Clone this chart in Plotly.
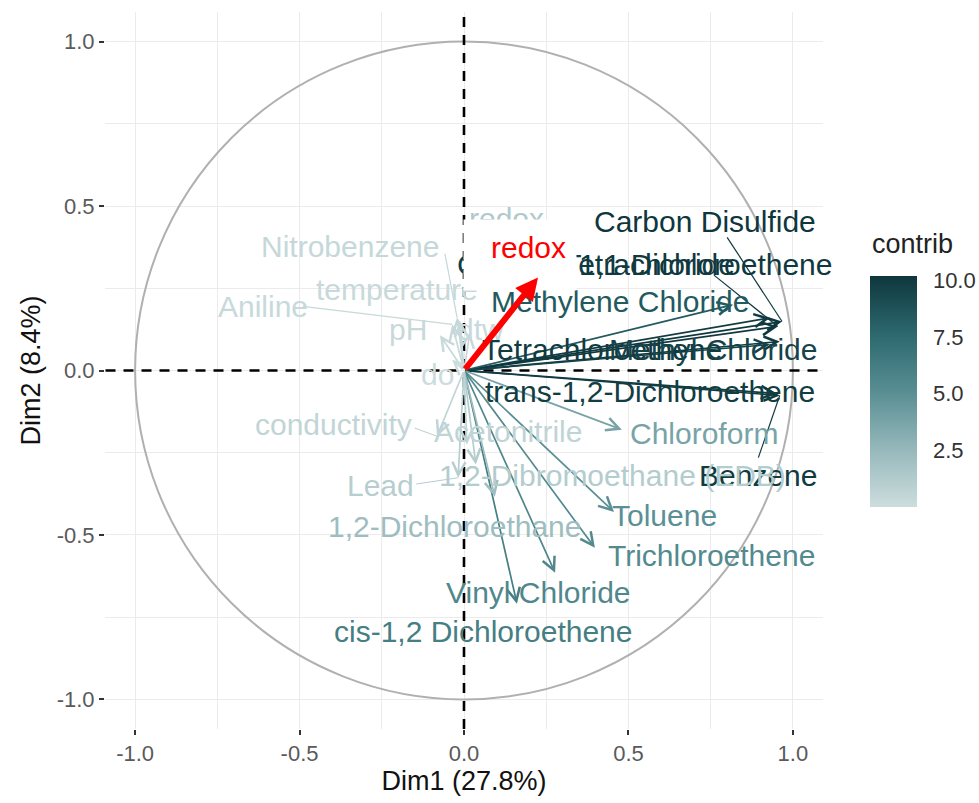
import plotly.graph_objects as go
from plotly.colors import sample_colorscale

# ---------------- data ----------------
variables = [
    "Carbon Disulfide", "Carbon Tetrachloride", "1,1-Dichloroethene", "Methylene Chloride",
    "Tetrachloroethene", "Methyl Chloride", "trans-1,2-Dichloroethene", "Benzene",
    "Chloroform", "Toluene", "Trichloroethene", "Vinyl Chloride", "cis-1,2 Dichloroethene",
    "1,2-Dichloroethane", "1,2-Dibromoethane (EDB)", "Acetonitrile", "Lead", "conductivity",
    "Aniline", "Nitrobenzene", "temperature", "pH", "dtw", "do", "redox",
]
dim1 = [0.967, 0.930, 0.954, 0.818, 0.960, 0.930, 0.951, 0.960,
        0.480, 0.456, 0.398, 0.277, 0.161,
        0.094, 0.036, 0.009, -0.018, -0.082,
        -0.036, -0.021, -0.012, -0.073, 0.018, -0.036, 0.225]
dim2 = [0.149, 0.160, 0.134, 0.200, 0.088, 0.079, -0.070, -0.076,
        -0.180, -0.430, -0.539, -0.615, -0.709,
        -0.384, -0.286, -0.225, -0.326, -0.200,
        0.140, 0.161, 0.150, 0.107, 0.116, 0.033, 0.283]
contrib = [10.2, 10.0, 10.1, 8.4, 10.0, 9.6, 9.9, 10.0,
           3.8, 5.0, 5.4, 5.6, 6.2,
           2.2, 1.2, 0.6, 1.0, 0.55,
           0.3, 0.35, 0.3, 0.25, 0.25, 0.05, 1.4]
x_label = "Dim1 (27.8%)"
y_label = "Dim2 (8.4%)"
legend_title = "contrib"
tick_vals = [-1.0, -0.5, 0.0, 0.5, 1.0]
tick_text = ["-1.0", "-0.5", "0.0", "0.5", "1.0"]
cbar_vals = [2.5, 5.0, 7.5, 10.0]
cbar_text = ["2.5", "5.0", "7.5", "10.0"]
highlight = "redox"
axis_range = [-1.09, 1.09]

# ---------------- layout helpers (label placement, repel segments) ----------------
label_pos = {
    "Carbon Disulfide": (0.733, 0.454), "Carbon Tetrachloride": (0.401, 0.323),
    "1,1-Dichloroethene": (0.737, 0.323), "Methylene Chloride": (0.474, 0.210),
    "Tetrachloroethene": (0.420, 0.064), "Methyl Chloride": (0.758, 0.064),
    "trans-1,2-Dichloroethene": (0.566, -0.064), "Benzene": (0.894, -0.320),
    "Chloroform": (0.730, -0.192), "Toluene": (0.611, -0.441),
    "Trichloroethene": (0.752, -0.563), "Vinyl Chloride": (0.225, -0.676),
    "cis-1,2 Dichloroethene": (0.058, -0.795), "1,2-Dichloroethane": (-0.027, -0.475),
    "1,2-Dibromoethane (EDB)": (0.452, -0.320), "Acetonitrile": (0.134, -0.186),
    "Lead": (-0.255, -0.350), "conductivity": (-0.398, -0.164),
    "Aniline": (-0.611, 0.195), "Nitrobenzene": (-0.347, 0.377),
    "temperature": (-0.204, 0.247), "pH": (-0.170, 0.125), "dtw": (0.049, 0.125),
    "do": (-0.082, -0.012), "redox": (0.130, 0.462),
}
segment_start = {
    "Carbon Disulfide": (0.800, 0.405), "1,1-Dichloroethene": (0.760, 0.290),
    "Benzene": (0.895, -0.265), "Aniline": (-0.490, 0.195),
    "Nitrobenzene": (-0.058, 0.355), "conductivity": (-0.150, -0.175),
    "Lead": (-0.145, -0.345),
}

colorscale = [[0.0, "rgb(205,221,222)"], [0.25, "rgb(150,184,187)"], [0.5, "rgb(88,142,147)"],
              [0.75, "rgb(44,104,110)"], [1.0, "rgb(14,55,61)"]]
cmin, cmax = 0.0, 10.2
colors = sample_colorscale(colorscale, [(c - cmin) / (cmax - cmin) for c in contrib])

FONT = "Liberation Sans, Arial, Helvetica, sans-serif"
LABEL_SIZE = 30

fig = go.Figure()

# dashed reference axes
fig.add_trace(go.Scatter(x=axis_range, y=[0, 0], mode="lines", hoverinfo="skip", showlegend=False,
                         line=dict(color="black", width=2.6, dash="10px,8px")))
fig.add_trace(go.Scatter(x=[0, 0], y=axis_range, mode="lines", hoverinfo="skip", showlegend=False,
                         line=dict(color="black", width=2.6, dash="10px,8px")))

# colorbar carrier
fig.add_trace(go.Scatter(
    x=[0, 0], y=[0, 0], mode="markers", hoverinfo="skip", showlegend=False,
    marker=dict(size=0.1, opacity=0, color=[cmin, cmax], colorscale=colorscale, cmin=cmin, cmax=cmax,
                showscale=True,
                colorbar=dict(
                    x=1.0655, xanchor="left", xpad=0, y=0.4707, yanchor="middle", ypad=0,
                    thickness=47, len=231, lenmode="pixels",
                    tickvals=cbar_vals, ticktext=cbar_text,
                    ticks="outside", ticklen=12, tickcolor="rgba(0,0,0,0)", tickwidth=1,
                    tickfont=dict(size=22, color="#333", family=FONT),
                    outlinewidth=0,
                ))))

# repel segments
for v, c in zip(variables, colors):
    if v in segment_start:
        i = variables.index(v)
        sx, sy = segment_start[v]
        fig.add_trace(go.Scatter(x=[sx, dim1[i]], y=[sy, dim2[i]], mode="lines",
                                 line=dict(color=c, width=1.2), hoverinfo="skip", showlegend=False))

# correlation circle
fig.add_shape(type="circle", xref="x", yref="y", x0=-1, y0=-1, x1=1, y1=1,
              line=dict(color="#B0B0B0", width=2), layer="between")

annotations = []
# arrows
for v, x, y, c in zip(variables, dim1, dim2, colors):
    annotations.append(dict(x=x, y=y, ax=0, ay=0, xref="x", yref="y", axref="x", ayref="y",
                            text="", showarrow=True, arrowhead=5, arrowsize=1.5, arrowwidth=1.7,
                            arrowcolor=c, standoff=0, startstandoff=0))
# labels
for v, c in zip(variables, colors):
    lx, ly = label_pos[v]
    annotations.append(dict(x=lx, y=ly, xref="x", yref="y", text=v, showarrow=False,
                            font=dict(size=LABEL_SIZE, color=c, family=FONT)))
# white box behind the highlighted label
annotations.append(dict(x=0.170, y=0.350, xref="x", yref="y", text=" ", showarrow=False,
                        width=110, height=68, bgcolor="white", font=dict(size=10)))
hi = variables.index(highlight)
annotations.append(dict(x=0.195, y=0.374, xref="x", yref="y", text=highlight, showarrow=False,
                        font=dict(size=LABEL_SIZE, color="red", family=FONT)))
# highlighted arrow
annotations.append(dict(x=dim1[hi], y=dim2[hi], ax=0, ay=0, xref="x", yref="y", axref="x", ayref="y",
                        text="", showarrow=True, arrowhead=2, arrowsize=0.75, arrowwidth=6,
                        arrowcolor="red", standoff=0, startstandoff=0))
# legend title
annotations.append(dict(x=1.0655, y=0.676, xref="paper", yref="paper", xanchor="left", yanchor="middle",
                        text=legend_title, showarrow=False,
                        font=dict(size=27, color="#222", family=FONT)))

grid = "#EBEBEB"
axis_common = dict(
    range=axis_range, tickvals=tick_vals, ticktext=tick_text,
    showgrid=True, gridcolor=grid, gridwidth=1.3, zeroline=False,
    minor=dict(dtick=0.25, tick0=0, showgrid=True, gridcolor=grid, gridwidth=0.7),
    ticks="outside", ticklen=5, tickwidth=2, tickcolor="#333",
    tickfont=dict(size=22, color="#5a5a5a", family=FONT),
    showline=False, automargin=False,
)
fig.update_layout(
    width=979, height=803,
    margin=dict(l=105, r=156, t=12, b=74, autoexpand=False),
    paper_bgcolor="white", plot_bgcolor="white",
    xaxis=dict(**axis_common, title=dict(text=x_label, font=dict(size=27, color="#111", family=FONT), standoff=2)),
    yaxis=dict(**axis_common, scaleanchor="x", scaleratio=1,
               title=dict(text=y_label, font=dict(size=27, color="#111", family=FONT), standoff=8)),
    annotations=annotations,
    showlegend=False,
)

fig.write_html("out.html")
